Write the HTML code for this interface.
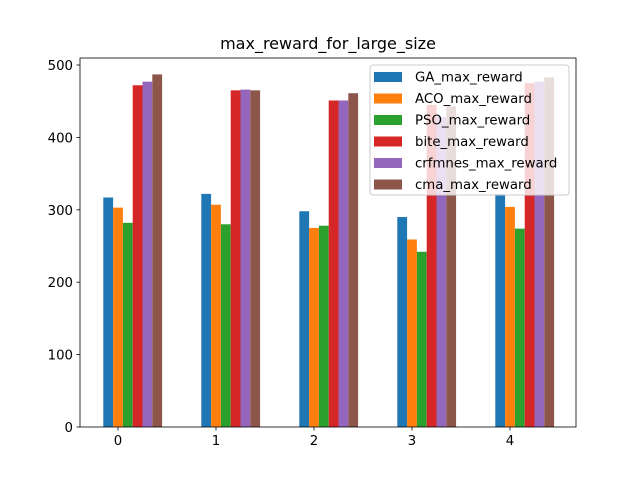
<!DOCTYPE html>
<html><head><meta charset="utf-8"><style>body{margin:0;background:#fff}svg{font-family:"DejaVu Sans","Liberation Sans",sans-serif}</style></head>
<body>
<svg id="c" width="640" height="480"></svg>
<script>
const categories=[0,1,2,3,4];
const seriesNames=["GA_max_reward","ACO_max_reward","PSO_max_reward","bite_max_reward","crfmnes_max_reward","cma_max_reward"];
const GA=[317,322,298,290,322];
const ACO=[303,307,275,259,304];
const PSO=[282,280,278,242,274];
const bite=[472,465,451,445,475];
const crfmnes=[477,466,451,428,477];
const cma=[487,465,461,443,483];
const yTicks=[0,100,200,300,400,500];
const colors=["#1f77b4","#ff7f0e","#2ca02c","#d62728","#9467bd","#8c564b"];
const series=[GA,ACO,PSO,bite,crfmnes,cma];
const NS="http://www.w3.org/2000/svg";
const svg=document.getElementById('c');
const L=80,R=576,T=58,B=427;
const xs=v=>118+v*98;
const ys=v=>B-v*(B-65)/500;
function mk(t,a,txt){const e=document.createElementNS(NS,t);for(const k in a)e.setAttribute(k,a[k]);if(txt!==undefined)e.textContent=txt;svg.appendChild(e);return e;}
series.forEach((s,i)=>{s.forEach((v,g)=>{
 const r=mk('rect',{x:xs(g-0.15+0.1*i),y:ys(v),width:98*0.1,height:B-ys(v),fill:colors[i]});
 
 
});});
const ax=mk('rect',{x:L,y:T,width:R-L,height:B-T,fill:'none',stroke:'#000','stroke-width':0.8});


categories.forEach(c=>{
 mk('line',{x1:xs(c),x2:xs(c),y1:B,y2:B+3.5,stroke:'#000','stroke-width':0.8});
 const t=mk('text',{x:xs(c),y:B+18,'text-anchor':'middle','font-size':13.3},String(c));
 
 
});
yTicks.forEach(v=>{
 mk('line',{x1:L-3.5,x2:L,y1:ys(v),y2:ys(v),stroke:'#000','stroke-width':0.8});
 const t=mk('text',{x:L-7,y:ys(v)+5,'text-anchor':'end','font-size':13.3},String(v));
 
 
});
const ti=mk('text',{x:328,y:49,'text-anchor':'middle','font-size':16},'max_reward_for_large_size');


const lg=mk('rect',{x:370,y:65,width:199,height:130,rx:3,fill:'#fff','fill-opacity':0.8,stroke:'#ccc'});


seriesNames.forEach((n,i)=>{
 const y=76+i*21.5;
 mk('rect',{x:374,y:y-4,width:28,height:10,fill:colors[i]});
 const t=mk('text',{x:415,y:y+5.5,'font-size':13.3},n);
 
 
});
</script>
</body></html>
